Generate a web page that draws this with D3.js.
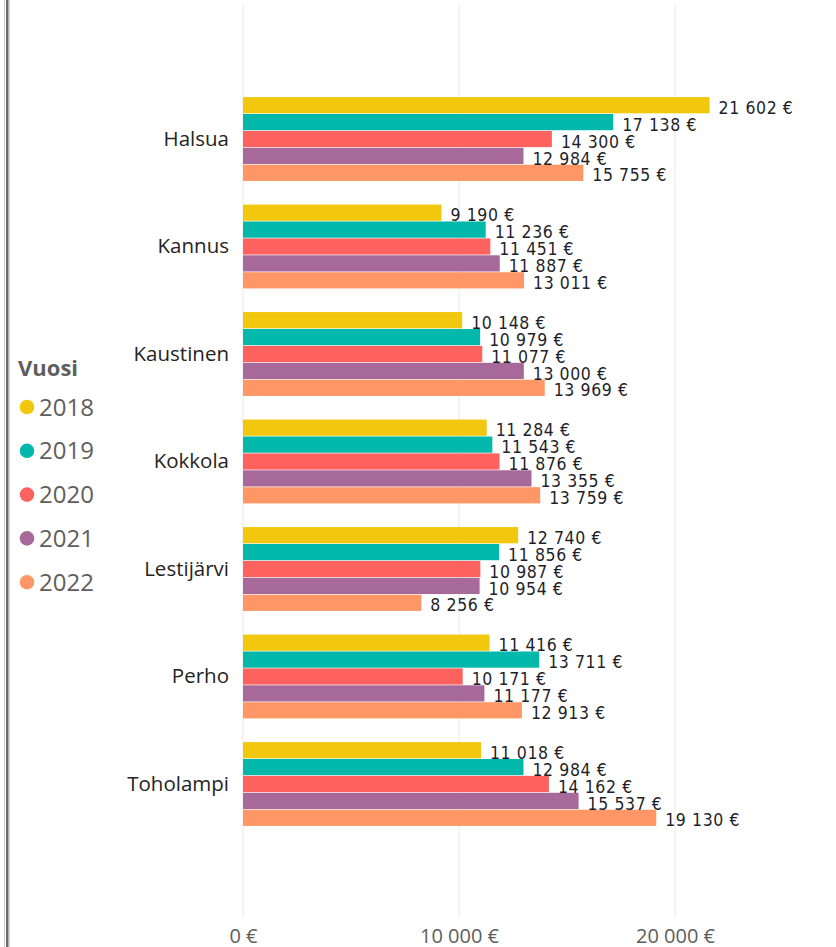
<!DOCTYPE html>
<html>
<head>
<meta charset="utf-8">
<script src="https://cdn.jsdelivr.net/npm/d3@7"></script>
<style>
  body { margin: 0; background: #fff; }
  svg { display: block; }
</style>
</head>
<body>
<div id="chart"></div>
<script>
// data
const municipalities = ["Halsua", "Kannus", "Kaustinen", "Kokkola", "Lestijärvi", "Perho", "Toholampi"];
const years = ["2018", "2019", "2020", "2021", "2022"];
const v2018 = [21602, 9190, 10148, 11284, 12740, 11416, 11018];
const v2019 = [17138, 11236, 10979, 11543, 11856, 13711, 12984];
const v2020 = [14300, 11451, 11077, 11876, 10987, 10171, 14162];
const v2021 = [12984, 11887, 13000, 13355, 10954, 11177, 15537];
const v2022 = [15755, 13011, 13969, 13759, 8256, 12913, 19130];
const xTicks = [0, 10000, 20000];
const yearColors = ["#F2C80F", "#01B8AA", "#FD625E", "#A66999", "#FE9666"];

const series = [v2018, v2019, v2020, v2021, v2022];

const width = 836, height = 947;

const svg = d3.select("#chart")
  .append("svg")
    .attr("width", width)
    .attr("height", height);

// left frame of the report
svg.append("rect").attr("x", 6).attr("y", 0).attr("width", 2.5).attr("height", height).attr("fill", "#6b6b6b");
svg.append("rect").attr("x", 4).attr("y", 0).attr("width", 1).attr("height", height).attr("fill", "#c8c8c8");
svg.append("rect").attr("x", 9).attr("y", 0).attr("width", 1).attr("height", height).attr("fill", "#d8d8d8");

const fmt = d3.formatLocale({ decimal: ",", thousands: "\u00a0", grouping: [3], currency: ["", " €"] }).format(",");
const euro = d => fmt(d) + " €";

const x = d3.scaleLinear()
  .domain([0, 20000])
  .range([243, 675]);

const y = d3.scaleBand()
  .domain(municipalities)
  .range([85.25, 837.75])
  .paddingInner(0.22)
  .paddingOuter(0.11);

const ySub = d3.scaleBand()
  .domain(years)
  .range([0, y.bandwidth()])
  .paddingInner(0.04);

const color = d3.scaleOrdinal()
  .domain(years)
  .range(yearColors);

// gridlines
svg.append("g")
  .selectAll("line")
  .data(xTicks)
  .join("line")
    .attr("x1", d => x(d)).attr("x2", d => x(d))
    .attr("y1", 5).attr("y2", 917)
    .attr("stroke", "#e9e9e9")
    .attr("stroke-width", 1);

// x axis labels
const xAxis = d3.axisBottom(x).tickValues(xTicks).tickFormat(euro).tickSize(0);
svg.append("g")
  .attr("transform", "translate(0,924)")
  .call(xAxis)
  .call(g => g.select(".domain").remove())
  .call(g => g.selectAll("text")
    .attr("fill", "#605E5C")
    .attr("dy", 0)
    .attr("y", 19)
    .style("font-family", "'Segoe UI', 'Open Sans', sans-serif")
    .style("font-size", "20px"));

// y axis labels
const yAxis = d3.axisLeft(y).tickSize(0).tickPadding(14);
svg.append("g")
  .attr("transform", `translate(${x(0)},0)`)
  .call(yAxis)
  .call(g => g.select(".domain").remove())
  .call(g => g.selectAll("text")
    .attr("fill", "#252423")
    .style("font-family", "'Segoe UI', 'Open Sans', sans-serif")
    .style("font-size", "20.5px"));

// bars
const rows = municipalities.map((m, i) => ({
  name: m,
  values: years.map((yr, j) => ({ year: yr, value: series[j][i] }))
}));

const groups = svg.append("g")
  .selectAll("g")
  .data(rows)
  .join("g")
    .attr("transform", d => `translate(0,${y(d.name)})`);

groups.selectAll("rect")
  .data(d => d.values)
  .join("rect")
    .attr("x", x(0))
    .attr("y", d => ySub(d.year))
    .attr("width", d => x(d.value) - x(0))
    .attr("height", ySub.bandwidth())
    .attr("fill", d => color(d.year));

groups.selectAll("text")
  .data(d => d.values)
  .join("text")
    .attr("x", d => x(d.value) + 9)
    .attr("y", d => ySub(d.year) + ySub.bandwidth() + 0.5)
    .text(d => euro(d.value))
    .attr("fill", "#1f1f2a")
    .style("font-family", "'DejaVu Sans Condensed', 'DejaVu Sans', sans-serif")
    .style("font-size", "17.5px")
    .style("letter-spacing", "0.6px");

// legend
const legend = svg.append("g");
legend.append("text")
  .attr("x", 18).attr("y", 376)
  .text("Vuosi")
  .attr("fill", "#605E5C")
  .style("font-family", "'Segoe UI', 'Open Sans', sans-serif")
  .style("font-weight", "bold")
  .style("font-size", "22px");

const items = legend.selectAll("g")
  .data(years)
  .join("g")
    .attr("transform", (d, i) => `translate(0,${407 + i * 43.8})`);

items.append("circle")
  .attr("cx", 27).attr("cy", 0).attr("r", 7.3)
  .attr("fill", d => color(d));

items.append("text")
  .attr("x", 39).attr("y", 8.5)
  .text(d => d)
  .attr("fill", "#605E5C")
  .style("font-family", "'Segoe UI', 'Open Sans', sans-serif")
  .style("font-size", "24px");
</script>
</body>
</html>
